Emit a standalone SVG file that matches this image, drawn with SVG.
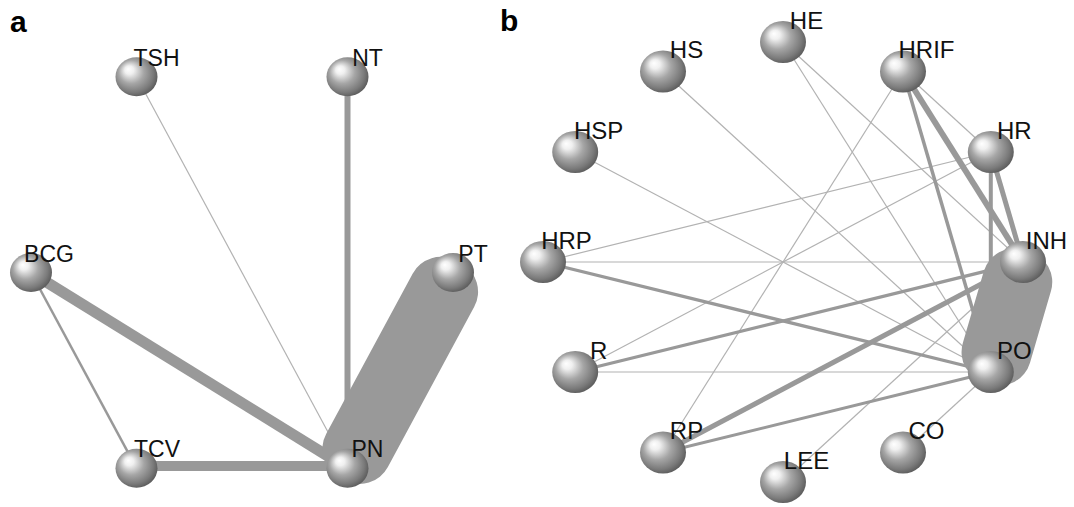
<svg xmlns="http://www.w3.org/2000/svg" width="1074" height="507" viewBox="0 0 1074 507">
<defs>
<radialGradient id="sph" cx="0.45" cy="0.45" r="0.6" fx="0.3" fy="0.3">
<stop offset="0" stop-color="#ffffff"/>
<stop offset="0.18" stop-color="#f0f0f0"/>
<stop offset="0.5" stop-color="#a6a6a6"/>
<stop offset="0.8" stop-color="#7a7a7a"/>
<stop offset="1" stop-color="#545454"/>
</radialGradient>
<style>
.thin{stroke:#b2b2b2;stroke-width:1.2;fill:none}
.e{stroke:#999999;fill:none}
.cap{fill:#999999}
.ball{fill:url(#sph)}
.la{font-family:"Liberation Sans",Arial,sans-serif;font-size:23px;fill:#111;text-anchor:middle}
.lb{font-family:"Liberation Sans",Arial,sans-serif;font-size:24px;fill:#111;text-anchor:middle}
.panel{font-family:"Liberation Sans",Arial,sans-serif;font-size:30px;font-weight:bold;fill:#000}
</style>
</defs>
<rect width="1074" height="507" fill="#ffffff"/>
<text class="panel" x="10" y="32">a</text>
<text class="panel" x="500" y="31">b</text>

<g id="connectors-a">
<line class="thin" x1="136.5" y1="76.8" x2="347.5" y2="468.2"/>
<line class="e" stroke-width="6" x1="347.5" y1="76.8" x2="347.5" y2="468.2"/>
<line class="e" stroke-width="11" x1="31" y1="272.5" x2="347.5" y2="468.2"/>
<line class="e" stroke-width="2.5" x1="31" y1="272.5" x2="136.5" y2="468.2"/>
<line class="e" stroke-width="10" x1="136.5" y1="466" x2="347.5" y2="466"/>
<rect class="cap" transform="translate(400.25,370.35) rotate(-61.67)" x="-123" y="-35" width="246" height="70" rx="32"/>
</g>

<g id="connectors-b">
<line class="thin" x1="663" y1="71.5" x2="990.8" y2="372"/>
<line class="thin" x1="575.2" y1="152" x2="990.8" y2="372"/>
<line class="thin" x1="783" y1="42" x2="990.8" y2="372"/>
<line class="thin" x1="783" y1="42" x2="1023" y2="262"/>
<line class="thin" x1="543" y1="262" x2="990.8" y2="152"/>
<line class="thin" x1="543" y1="262" x2="1023" y2="262"/>
<line class="thin" x1="575.2" y1="372" x2="990.8" y2="152"/>
<line class="thin" x1="575.2" y1="372" x2="990.8" y2="372"/>
<line class="thin" x1="663" y1="452.5" x2="903" y2="71.5"/>
<line class="thin" x1="783" y1="482" x2="1023" y2="262"/>
<line class="thin" x1="903" y1="452.5" x2="990.8" y2="372"/>
<line class="thin" x1="903" y1="71.5" x2="990.8" y2="152"/>
<line class="e" stroke-width="3.3" x1="543" y1="262" x2="990.8" y2="372"/>
<line class="e" stroke-width="3.3" x1="575.2" y1="372" x2="1023" y2="262"/>
<line class="e" stroke-width="3" x1="663" y1="452.5" x2="990.8" y2="372"/>
<line class="e" stroke-width="3.5" x1="903" y1="71.5" x2="990.8" y2="372"/>
<line class="e" stroke-width="4" x1="990.8" y1="152" x2="990.8" y2="372"/>
<line class="e" stroke-width="5" x1="663" y1="452.5" x2="1023" y2="262"/>
<line class="e" stroke-width="6" x1="903" y1="71.5" x2="1023" y2="262"/>
<line class="e" stroke-width="5" x1="990.8" y1="152" x2="1023" y2="262"/>
<rect class="cap" transform="translate(1006.9,317) rotate(-73.68)" x="-69.3" y="-35" width="138.6" height="70" rx="32"/>
</g>

<g id="node-TSH"><ellipse class="ball" cx="136.5" cy="76.8" rx="21" ry="19.5"/><text class="la" x="156.5" y="65.8">TSH</text></g>
<g id="node-NT"><ellipse class="ball" cx="347.5" cy="76.8" rx="21" ry="19.5"/><text class="la" x="367.5" y="65.8">NT</text></g>
<g id="node-BCG"><ellipse class="ball" cx="31" cy="272.5" rx="21" ry="19.5"/><text class="la" x="49" y="261.5">BCG</text></g>
<g id="node-PT"><ellipse class="ball" cx="453" cy="272.5" rx="21" ry="19.5"/><text class="la" x="473" y="261.5">PT</text></g>
<g id="node-TCV"><ellipse class="ball" cx="136.5" cy="468.2" rx="21" ry="19.5"/><text class="la" x="157" y="456.7">TCV</text></g>
<g id="node-PN"><ellipse class="ball" cx="347.5" cy="468.2" rx="21" ry="19.5"/><text class="la" x="367.5" y="456.7">PN</text></g>

<g id="node-HE"><ellipse class="ball" cx="783" cy="42" rx="23" ry="21"/><text class="lb" x="806.5" y="28.5">HE</text></g>
<g id="node-HRIF"><ellipse class="ball" cx="903" cy="71.5" rx="23" ry="21"/><text class="lb" x="926.5" y="58">HRIF</text></g>
<g id="node-HR"><ellipse class="ball" cx="990.8" cy="152" rx="23" ry="21"/><text class="lb" x="1014.3" y="138.5">HR</text></g>
<g id="node-INH"><ellipse class="ball" cx="1023" cy="262" rx="23" ry="21"/><text class="lb" x="1046.5" y="248.5">INH</text></g>
<g id="node-PO"><ellipse class="ball" cx="990.8" cy="372" rx="23" ry="21"/><text class="lb" x="1014.3" y="358.5">PO</text></g>
<g id="node-CO"><ellipse class="ball" cx="903" cy="452.5" rx="23" ry="21"/><text class="lb" x="926.5" y="439">CO</text></g>
<g id="node-LEE"><ellipse class="ball" cx="783" cy="482" rx="23" ry="21"/><text class="lb" x="806.5" y="468.5">LEE</text></g>
<g id="node-RP"><ellipse class="ball" cx="663" cy="452.5" rx="23" ry="21"/><text class="lb" x="686.5" y="439">RP</text></g>
<g id="node-R"><ellipse class="ball" cx="575.2" cy="372" rx="23" ry="21"/><text class="lb" x="598.7" y="358.5">R</text></g>
<g id="node-HRP"><ellipse class="ball" cx="543" cy="262" rx="23" ry="21"/><text class="lb" x="566.5" y="248.5">HRP</text></g>
<g id="node-HSP"><ellipse class="ball" cx="575.2" cy="152" rx="23" ry="21"/><text class="lb" x="598.7" y="138.5">HSP</text></g>
<g id="node-HS"><ellipse class="ball" cx="663" cy="71.5" rx="23" ry="21"/><text class="lb" x="686.5" y="58">HS</text></g>
</svg>
